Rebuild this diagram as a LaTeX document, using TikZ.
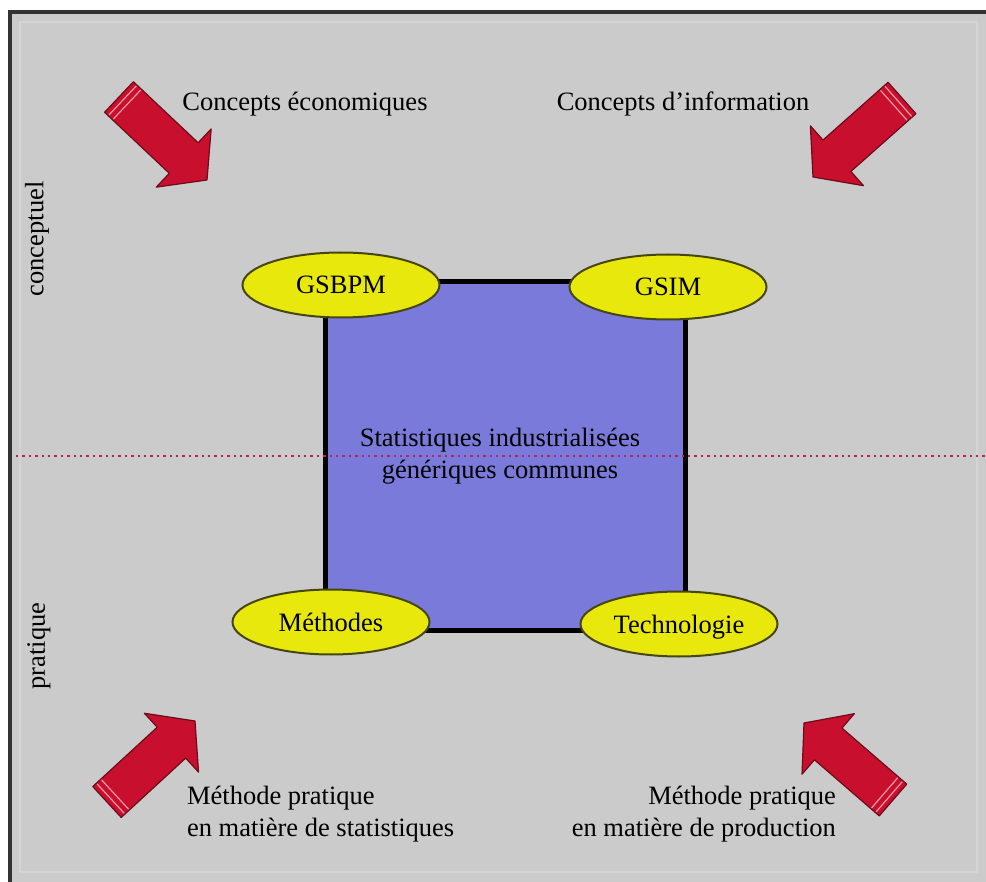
\documentclass[tikz,border=0pt]{standalone}
\usepackage{fontspec}
\setmainfont{Liberation Serif}
\usetikzlibrary{shapes.geometric,calc}

\definecolor{bggray}{RGB}{203,203,203}
\definecolor{framedark}{RGB}{50,50,50}
\definecolor{framelight}{RGB}{212,212,212}
\definecolor{boxblue}{RGB}{122,122,218}
\definecolor{ovalyellow}{RGB}{232,232,12}
\definecolor{ovaledge}{RGB}{70,70,20}
\definecolor{arrowred}{RGB}{200,16,46}
\definecolor{arrowdark}{RGB}{110,10,25}
\definecolor{arrowpink}{RGB}{240,150,160}
\definecolor{dotred}{RGB}{176,40,90}

% block arrow from tail #1 to tip #2
\newcommand\redarrow[2]{%
  \path #1 coordinate (ra-t) #2 coordinate (ra-p);
  \path ($(ra-p)!16pt!(ra-t)$) coordinate (ra-b);
  \filldraw[arrowbody]
    ($(ra-t)!10.5pt!90:(ra-p)$) -- ($(ra-b)!10.5pt!-90:(ra-t)$)
    -- ($(ra-b)!20pt!-90:(ra-t)$) -- (ra-p)
    -- ($(ra-b)!20pt!90:(ra-t)$) -- ($(ra-b)!10.5pt!90:(ra-t)$)
    -- ($(ra-t)!10.5pt!-90:(ra-p)$) -- cycle;
  \foreach \d in {2.5pt,5.5pt} {
    \path ($(ra-t)!\d!(ra-p)$) coordinate (ra-s);
    \draw[arrowstripe] ($(ra-s)!10pt!90:(ra-p)$) -- ($(ra-s)!10pt!-90:(ra-p)$);
  }
}

\begin{document}
\begin{tikzpicture}[x=0.5pt,y=-0.5pt,
    every node/.style={font=\fontsize{13.25}{16}\selectfont},
    oval/.style={ellipse,draw=ovaledge,line width=1pt,fill=ovalyellow,
      minimum width=98.5pt,minimum height=32.5pt,inner sep=0pt,
      text height=9pt,text depth=0pt},
    arrowbody/.style={fill=arrowred,draw=arrowdark,line width=0.6pt,line join=round},
    arrowstripe/.style={draw=arrowpink,line width=0.6pt},
    sidelabel/.style={rotate=90,anchor=center}]
  \useasboundingbox (0,0) rectangle (986,882);
  \fill[white] (0,0) rectangle (986,882);
  \fill[bggray] (8,11) rectangle (986,882);
  \draw[framelight,line width=0.6pt] (20,22) rectangle (977,872);
  \draw[framedark,line width=2pt] (8,12) -- (986,12);
  \draw[framedark,line width=2pt] (10,11) -- (10,882);

  % central box
  \draw[fill=boxblue,line width=2.5pt] (325,282) rectangle (685,630);

  % separation conceptuel / pratique
  \draw[dotred,dotted,line width=1.2pt] (16,456) -- (986,456);

  \node[align=center] (core) at (500,456)
    {Statistiques industrialisées\\génériques communes};

  \node[oval] (gsbpm) at (341,285) {GSBPM};
  \node[oval] (gsim) at (668,287) {GSIM};
  \node[oval] (meth) at (331,622) {Méthodes};
  \node[oval] (tech) at (679,624) {Technologie};

  \node[sidelabel] (concl) at (37,239) {conceptuel};
  \node[sidelabel] (pratl) at (39,646) {pratique};

  \node (econ) at (305,104) {Concepts économiques};
  \node (info) at (683,104) {Concepts d’information};
  \node[align=left,anchor=west] (mstat) at (180,814)
    {Méthode pratique\\en matière de statistiques};
  \node[align=right,anchor=east] (mprod) at (843,814)
    {Méthode pratique\\en matière de production};

  % arrows
  \redarrow{(119,97)}{(207,180)}
  \redarrow{(902,98)}{(813,177)}
  \redarrow{(107,802)}{(195,721)}
  \redarrow{(893,800)}{(804,723)}
\end{tikzpicture}
\end{document}
